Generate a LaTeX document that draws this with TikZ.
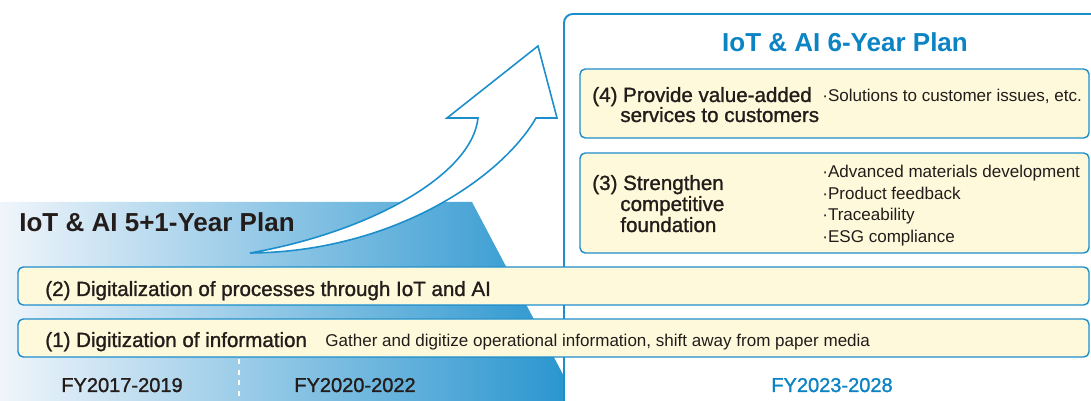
\documentclass[tikz,border=0pt]{standalone}
\usepackage{fontspec}
\setmainfont{Liberation Sans}
\newfontfamily\medfont{Liberation Sans}[FakeBold=1.2]
\definecolor{planblue}{RGB}{28,142,204}
\definecolor{titleblue}{RGB}{12,132,196}
\definecolor{boxfill}{RGB}{255,249,220}
\definecolor{inkdark}{RGB}{35,28,26}
\definecolor{gradlight}{RGB}{240,245,251}
\definecolor{graddark}{RGB}{38,148,206}

\begin{document}
\begin{tikzpicture}[x=0.02cm,y=-0.02cm,
  itembox/.style={draw=planblue,fill=boxfill,line width=0.8pt,rounded corners=3pt},
  headtext/.style={font=\medfont\fontsize{11.7}{13}\selectfont,text=inkdark,
    anchor=base west,inner sep=0pt},
  subtext/.style={font=\fontsize{9.7}{11}\selectfont,text=inkdark,
    anchor=base west,inner sep=0pt},
  plantitle/.style={font=\bfseries\fontsize{14.8}{16}\selectfont,inner sep=0pt},
  yeartext/.style={font=\medfont\fontsize{11.4}{13}\selectfont,text=inkdark,
    anchor=base,inner sep=0pt}]
  \useasboundingbox (0,0) rectangle (1091,401);
  \clip (0,0) rectangle (1091,401);
  % background of the 5+1-year plan
  \shade[left color=gradlight,right color=graddark]
    (0,202) -- (472,202) -- (577,401) -- (0,401) -- cycle;
  % frame of the 6-year plan
  \draw[planblue,line width=1.1pt,fill=white,rounded corners=5pt]
    (564,14) rectangle (1120,430);
  % rising arrow
  \draw[planblue,line width=0.9pt,fill=white,line join=miter]
    (250,253) .. controls (370,232) and (472,175) .. (478,118)
    -- (447,118) -- (538,46) -- (557,118) -- (536,118)
    .. controls (500,180) and (390,252) .. cycle;
  \draw[white,line width=0.8pt,dashed] (239,359) -- (239,401);
  % titles
  \node[plantitle,text=inkdark,anchor=base west] (oldplan) at (19,232) {IoT \& AI 5+1-Year Plan};
  \node[plantitle,text=titleblue,anchor=base] (newplan) at (845,52) {IoT \& AI 6-Year Plan};
  % boxes
  \draw[itembox] (580,69) rectangle (1089,138);
  \draw[itembox] (580,153) rectangle (1089,253);
  \draw[itembox] (18,267) rectangle (1089,305);
  \draw[itembox] (18,319) rectangle (1089,357);
  \node[headtext] (step4a) at (592,102) {(4) Provide value-added};
  \node[headtext] (step4b) at (620,122) {services to customers};
  \node[subtext] (detail4) at (822,102) {·Solutions to customer issues, etc.};
  \node[headtext] (step3a) at (592,190) {(3) Strengthen};
  \node[headtext] (step3b) at (620,211) {competitive};
  \node[headtext] (step3c) at (620,232) {foundation};
  \foreach \txt [count=\i] in {Advanced materials development,Product feedback,
    Traceability,ESG compliance}
    \node[subtext] (detail3-\i) at (822,{178+21.5*(\i-1)}) {·\txt};
  \node[headtext] (step2) at (45,296) {(2) Digitalization of processes through IoT and AI};
  \node[headtext] (step1) at (45,347) {(1) Digitization of information};
  \node[subtext] (detail1) at (325,347)
    {Gather and digitize operational information, shift away from paper media};
  % years
  \node[yeartext] (fy1) at (122,392) {FY2017-2019};
  \node[yeartext] (fy2) at (355,392) {FY2020-2022};
  \node[yeartext,text=titleblue] (fy3) at (832,392) {FY2023-2028};
\end{tikzpicture}
\end{document}
